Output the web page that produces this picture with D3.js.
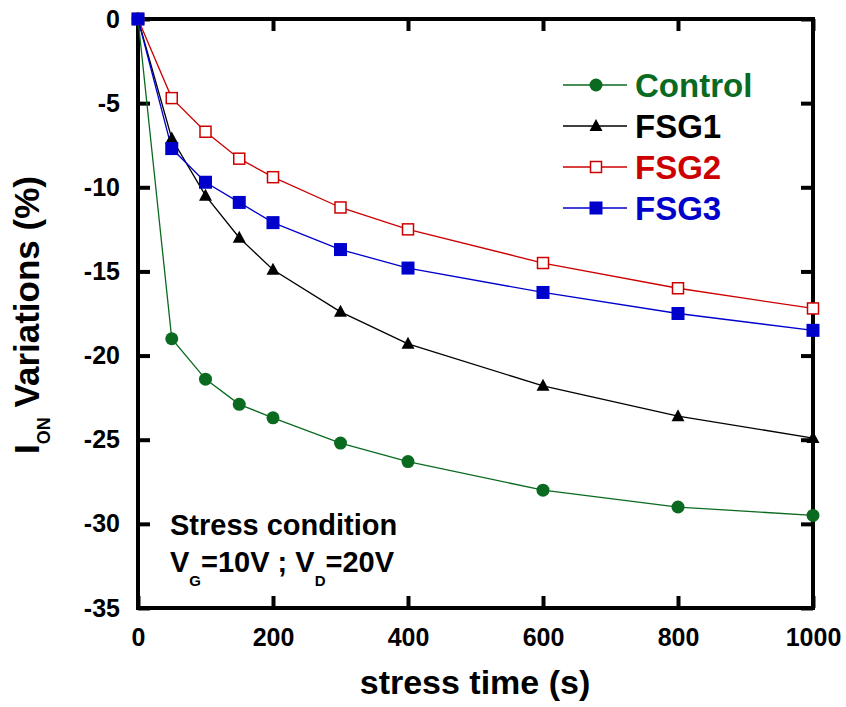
<!DOCTYPE html>
<html>
<head>
<meta charset="utf-8">
<script src="https://cdn.jsdelivr.net/npm/d3@7"></script>
<style>
  body { margin: 0; background: #fff; }
  text { font-family: "Liberation Sans", Arial, sans-serif; font-weight: bold; }
</style>
</head>
<body>
<div id="chart"></div>
<script>
let stressTime = [0, 50, 100, 150, 200, 300, 400, 600, 800, 1000];
let control = [0, -19.0, -21.4, -22.9, -23.7, -25.2, -26.3, -28.0, -29.0, -29.5];
let fsg1 = [0, -7.1, -10.5, -13.0, -14.9, -17.4, -19.3, -21.8, -23.6, -24.9];
let fsg2 = [0, -4.7, -6.7, -8.3, -9.4, -11.2, -12.5, -14.5, -16.0, -17.2];
let fsg3 = [0, -7.7, -9.7, -10.9, -12.1, -13.7, -14.8, -16.25, -17.5, -18.5];
let xTicks = [0, 200, 400, 600, 800, 1000];
let yTicks = [0, -5, -10, -15, -20, -25, -30, -35];

let svgWidth = 846;
let svgHeight = 707;
let margin = { top: 19, right: 33, bottom: 99, left: 138 };
let width = svgWidth - margin.left - margin.right;
let height = svgHeight - margin.top - margin.bottom;

let svg = d3.select("#chart").append("svg")
  .attr("width", svgWidth)
  .attr("height", svgHeight);

let chartGroup = svg.append("g")
  .attr("transform", `translate(${margin.left}, ${margin.top})`);

let x = d3.scaleLinear().domain([0, 1000]).range([0, width]);
let y = d3.scaleLinear().domain([-35, 0]).range([height, 0]);

let plainFmt = d => String(d); // hyphen minus, no thousands comma

// axes, ticks pointing inward on all four sides
function styleAxis(g) {
  g.select(".domain").remove();
  g.selectAll(".tick line").attr("stroke", "#000").attr("stroke-width", 4);
  g.selectAll(".tick text").attr("fill", "#000").attr("font-size", 25)
    .attr("font-family", null).style("font-weight", "bold");
}

chartGroup.append("g")
  .attr("transform", `translate(0, ${height})`)
  .call(d3.axisBottom(x).tickValues(xTicks).tickFormat(plainFmt).tickSizeInner(-12).tickSizeOuter(0).tickPadding(20))
  .call(styleAxis);

chartGroup.append("g")
  .call(d3.axisTop(x).tickValues(xTicks).tickSizeInner(-12).tickSizeOuter(0).tickFormat(""))
  .call(styleAxis);

chartGroup.append("g")
  .call(d3.axisLeft(y).tickValues(yTicks).tickFormat(plainFmt).tickSizeInner(-12).tickSizeOuter(0).tickPadding(18))
  .call(styleAxis);

chartGroup.append("g")
  .attr("transform", `translate(${width}, 0)`)
  .call(d3.axisRight(y).tickValues(yTicks).tickSizeInner(-12).tickSizeOuter(0).tickFormat(""))
  .call(styleAxis);

chartGroup.append("rect")
  .attr("width", width)
  .attr("height", height)
  .attr("fill", "none")
  .attr("stroke", "#000")
  .attr("stroke-width", 4);

let series = [
  { name: "Control", values: control, color: "#0a6a1f", marker: "circle" },
  { name: "FSG1", values: fsg1, color: "#000000", marker: "triangle" },
  { name: "FSG2", values: fsg2, color: "#cc0000", marker: "openSquare" },
  { name: "FSG3", values: fsg3, color: "#0000cc", marker: "square" }
];

let line = d3.line()
  .x((d, i) => x(stressTime[i]))
  .y(d => y(d));

function drawMarker(g, type, color) {
  if (type === "circle") {
    g.append("circle").attr("r", 6.5).attr("fill", color);
  } else if (type === "triangle") {
    g.append("path").attr("d", "M0,-7L6.5,5L-6.5,5Z").attr("fill", color);
  } else if (type === "openSquare") {
    g.append("rect").attr("x", -5.5).attr("y", -5.5).attr("width", 11).attr("height", 11)
      .attr("fill", "#fff").attr("stroke", color).attr("stroke-width", 1.5);
  } else {
    g.append("rect").attr("x", -6.5).attr("y", -6.5).attr("width", 13).attr("height", 13)
      .attr("fill", color);
  }
}

series.forEach(s => {
  chartGroup.append("path")
    .datum(s.values)
    .attr("d", line)
    .attr("fill", "none")
    .attr("stroke", s.color)
    .attr("stroke-width", 1.3);
});

series.forEach(s => {
  chartGroup.append("g")
    .selectAll("g")
    .data(s.values)
    .enter()
    .append("g")
    .attr("transform", (d, i) => `translate(${x(stressTime[i])}, ${y(d)})`)
    .each(function() { drawMarker(d3.select(this), s.marker, s.color); });
});

// legend
let legend = svg.append("g").attr("transform", "translate(563, 85)");
series.forEach((s, i) => {
  let row = legend.append("g").attr("transform", `translate(0, ${i * 41})`);
  row.append("line").attr("x1", 0).attr("x2", 64).attr("stroke", s.color).attr("stroke-width", 1.5);
  drawMarker(row.append("g").attr("transform", "translate(33, 0)"), s.marker, s.color);
  row.append("text")
    .attr("x", 72)
    .attr("y", 12)
    .attr("font-size", 33)
    .attr("fill", s.color)
    .text(s.name);
});

// stress condition note
svg.append("text")
  .attr("x", 170).attr("y", 535)
  .attr("font-size", 29)
  .text("Stress condition");

let cond = svg.append("text")
  .attr("x", 170).attr("y", 572)
  .attr("font-size", 29);
cond.append("tspan").text("V");
cond.append("tspan").attr("font-size", 15).attr("dy", 14).text("G");
cond.append("tspan").attr("dy", -14).text("=10V ; V");
cond.append("tspan").attr("font-size", 15).attr("dy", 14).text("D");
cond.append("tspan").attr("dy", -14).text("=20V");

// axis titles
svg.append("text")
  .attr("x", 475).attr("y", 694)
  .attr("text-anchor", "middle")
  .attr("font-size", 34)
  .text("stress time (s)");

let yTitle = svg.append("text")
  .attr("transform", "translate(39, 315) rotate(-90)")
  .attr("text-anchor", "middle")
  .attr("font-size", 35);
yTitle.append("tspan").text("I");
yTitle.append("tspan").attr("font-size", 18).attr("dy", 11).text("ON");
yTitle.append("tspan").attr("dy", -11).text(" Variations (%)");
</script>
</body>
</html>
